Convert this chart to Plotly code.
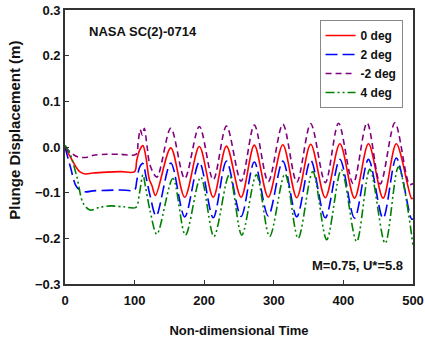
import plotly.graph_objects as go

# ---- data ----
t_red = [0, 7, 14, 21, 29, 40, 60, 80, 100, 103, 107, 112, 116, 121, 125, 130,
         152, 172, 193, 213, 232, 253, 272, 292, 313, 333, 353, 374, 395, 416,
         436, 457, 476, 498, 500]
y_red = [0.0, -0.020, -0.039, -0.054, -0.059, -0.057, -0.055, -0.054, -0.054,
         -0.030, -0.008, 0.003, -0.020, -0.070, -0.085, -0.106,
         -0.002, -0.110, 0.001, -0.110, 0.002, -0.110, 0.004, -0.110, 0.005,
         -0.111, 0.006, -0.111, 0.007, -0.112, 0.007, -0.112, 0.007, -0.113, -0.112]

t_blue = [0, 8, 17, 29, 40, 60, 80, 100, 103, 107, 112, 116, 122, 131,
          152, 172, 193, 213, 232, 253, 272, 292, 313, 333, 353, 374, 395, 416,
          436, 457, 476, 498, 500]
y_blue = [0.0, -0.045, -0.088, -0.098, -0.096, -0.095, -0.094, -0.094, -0.075,
          -0.045, -0.036, -0.062, -0.105, -0.151,
          -0.035, -0.153, -0.033, -0.155, -0.031, -0.152, -0.033, -0.151, -0.031,
          -0.153, -0.029, -0.155, -0.027, -0.156, -0.027, -0.156, -0.024, -0.158, -0.157]

t_purple = [0, 7, 17, 29, 41, 60, 80, 102, 105, 108, 111, 114, 118, 122, 132,
            152, 172, 193, 213, 232, 253, 272, 292, 313, 333, 353, 374, 393, 414,
            434, 453, 474, 495, 500]
y_purple = [-0.002, -0.010, -0.021, -0.023, -0.018, -0.016, -0.016, -0.016,
            0.008, 0.038, 0.026, 0.041, 0.000, -0.039, -0.066,
            0.041, -0.069, 0.045, -0.072, 0.046, -0.075, 0.048, -0.076, 0.050,
            -0.077, 0.051, -0.078, 0.052, -0.080, 0.053, -0.081, 0.053, -0.082, -0.080]

t_green = [0, 7, 17, 26, 36, 50, 65, 84, 102, 107, 112, 116, 122, 132,
           155, 173, 195, 214, 236, 254, 275, 294, 316, 335, 356, 376, 397, 419,
           438, 460, 479, 500]
y_green = [0.004, -0.014, -0.065, -0.123, -0.138, -0.132, -0.129, -0.131, -0.132,
           -0.101, -0.061, -0.090, -0.138, -0.191,
           -0.069, -0.193, -0.066, -0.196, -0.061, -0.193, -0.061, -0.196, -0.059,
           -0.200, -0.054, -0.203, -0.050, -0.207, -0.049, -0.211, -0.044, -0.216]

series_names = ["0 deg", "2 deg", "-2 deg", "4 deg"]
x_ticks = [0, 100, 200, 300, 400, 500]
y_ticks = [-0.3, -0.2, -0.1, 0.0, 0.1, 0.2, 0.3]

FONT = "Liberation Sans, Arial, sans-serif"

fig = go.Figure()
styles = [
    (t_red, y_red, "#ff0000", "solid"),
    (t_blue, y_blue, "#0000ff", "12px,5px"),
    (t_purple, y_purple, "#800080", "6px,4px"),
    (t_green, y_green, "#008000", "9px,3px,2px,3px,2px,3px"),
]
for name, (tx, ty, col, dash) in zip(series_names, styles):
    fig.add_trace(go.Scatter(
        x=tx, y=ty, mode="lines", name=name,
        line=dict(color=col, width=1.6, dash=dash, shape="spline", smoothing=0.9),
    ))

axis_common = dict(
    showgrid=False, zeroline=False, showline=True, mirror=True,
    linecolor="#333333", linewidth=1.6, automargin=False,
    ticks="inside", ticklen=4, tickcolor="#333333", tickwidth=1,
    tickfont=dict(family=FONT, size=13, color="#111111", weight="bold"),
)

fig.update_layout(
    width=425, height=342,
    margin=dict(l=65, r=12, t=10, b=58),
    paper_bgcolor="white", plot_bgcolor="white",
    font=dict(family=FONT, color="#111111"),
    showlegend=True,
    legend=dict(
        x=0.970, y=0.9635, xanchor="right", yanchor="top",
        bgcolor="white", bordercolor="#888888", borderwidth=1,
        font=dict(family=FONT, size=12, color="#111111", weight="bold"),
        tracegroupgap=0,
    ),
    xaxis=dict(
        range=[0, 500], tickvals=x_ticks, ticklabelstandoff=4,
        title=dict(text="Non-dimensional Time", standoff=18,
                   font=dict(family=FONT, size=13, color="#111111", weight="bold")),
        **axis_common,
    ),
    yaxis=dict(
        range=[-0.3, 0.3], tickvals=y_ticks, tickformat=".1f",
        **axis_common,
    ),
    annotations=[
        dict(text="NASA SC(2)-0714", xref="paper", yref="paper", x=0.0624, y=0.921,
             xanchor="left", yanchor="middle", showarrow=False,
             font=dict(family=FONT, size=13, color="#111111", weight="bold")),
        dict(text="M=0.75, U*=5.8", xref="paper", yref="paper", x=0.977, y=0.069,
             xanchor="right", yanchor="middle", showarrow=False,
             font=dict(family=FONT, size=13, color="#111111", weight="bold")),
        dict(text="Plunge Displacement (m)", xref="paper", yref="paper",
             x=-0.146, y=0.56, xanchor="center", yanchor="middle", textangle=-90,
             showarrow=False,
             font=dict(family=FONT, size=15, color="#111111", weight="bold")),
    ],
)

fig.write_html("out.html")
